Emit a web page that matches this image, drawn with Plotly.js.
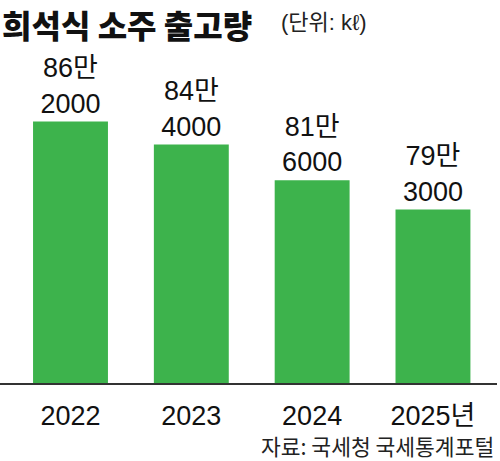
<!DOCTYPE html>
<html>
<head>
<meta charset="utf-8">
<script src="https://cdn.plot.ly/plotly-3.0.1.min.js"></script>
<style>html,body{margin:0;padding:0;background:#fff;}#chart{width:500px;height:461px;}</style>
</head>
<body>
<div id="chart"></div>
<script>
const categories = ['2022', '2023', '2024', '2025'];
const tickLabels = ['2022', '2023', '2024', '2025년'];
const shipments = [862000, 844000, 816000, 793000];

const labelText = shipments.map(v => Math.floor(v / 10000) + '만<br>' + String(v % 10000).padStart(4, '0'));
const FONT = '"Liberation Sans", "Noto Sans CJK KR", sans-serif';
const KFONT = '"Noto Sans CJK KR", sans-serif';

const trace = {
  type: 'bar',
  x: categories,
  y: shipments,
  text: labelText,
  textposition: 'outside',
  textangle: 0,
  cliponaxis: false,
  textfont: {family: FONT, size: 27, color: '#111'},
  marker: {color: '#3db34c', line: {width: 0}},
  hoverinfo: 'none'
};

const layout = {
  width: 500, height: 461,
  margin: {l: 0, r: 3, t: 60, b: 78},
  paper_bgcolor: '#fff', plot_bgcolor: '#fff',
  showlegend: false,
  bargap: 0.38,
  xaxis: {
    type: 'category',
    range: [-0.5835, 3.53],
    tickvals: categories,
    ticktext: tickLabels,
    showgrid: false, zeroline: false,
    showline: true, linecolor: '#333', linewidth: 1.5,
    ticks: '', ticklabelstandoff: 8,
    tickfont: {family: FONT, size: 27, color: '#111'}
  },
  yaxis: {
    range: [657000, 910300],
    visible: false, showgrid: false, zeroline: false
  },
  annotations: [
    {text: '희석식 소주 출고량', xref: 'paper', yref: 'paper', x: 0, y: 1, xanchor: 'left', yanchor: 'middle',
     xshift: 0, yshift: 60 - 24, showarrow: false, font: {family: KFONT, size: 32, weight: 900, color: '#111'}},
    {text: '(단위: kℓ)', xref: 'paper', yref: 'paper', x: 0, y: 1, xanchor: 'left', yanchor: 'middle',
     xshift: 279, yshift: 60 - 22, showarrow: false, font: {family: FONT, size: 22, color: '#222'}},
    {text: '자료: 국세청 국세통계포털', xref: 'paper', yref: 'paper', x: 1, y: 0, xanchor: 'right', yanchor: 'middle',
     xshift: -1, yshift: -(445 - 383), showarrow: false, font: {family: KFONT, size: 21.5, color: '#222'}}
  ]
};

Plotly.newPlot('chart', [trace], layout, {staticPlot: true, displayModeBar: false});
</script>
</body>
</html>
